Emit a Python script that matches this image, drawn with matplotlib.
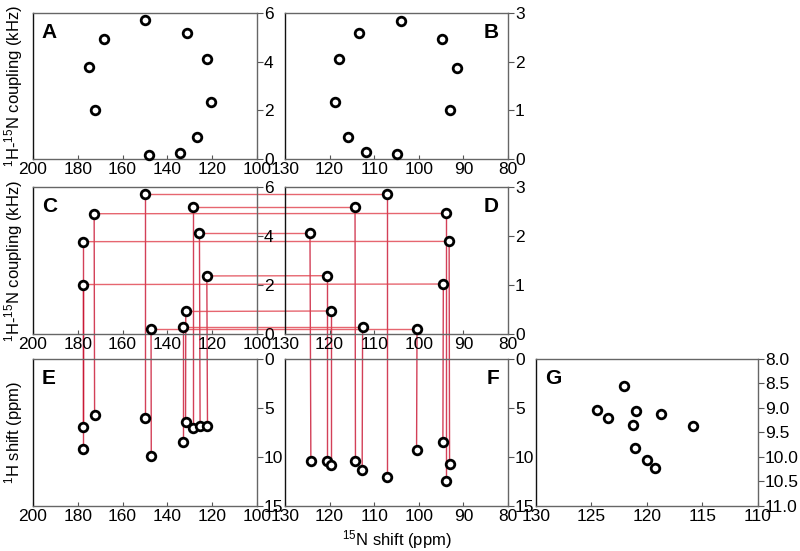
import matplotlib
matplotlib.use("Agg")
import matplotlib.pyplot as plt
from matplotlib.lines import Line2D

plt.rcParams['font.family'] = ['Liberation Sans', 'DejaVu Sans']
plt.rcParams['mathtext.fontset'] = 'custom'
plt.rcParams['mathtext.rm'] = 'Liberation Sans'
plt.rcParams['mathtext.it'] = 'Liberation Sans:italic'
plt.rcParams['mathtext.bf'] = 'Liberation Sans:bold'

# panel A: 15N shift (ppm) vs 1H-15N coupling (kHz)
a_n = [150.0, 168.2, 175.2, 172.2, 148.1, 134.3, 126.6, 131.2, 122.5, 120.4]
a_j = [5.70, 4.93, 3.77, 2.00, 0.18, 0.26, 0.89, 5.18, 4.10, 2.36]

# panel B
b_n = [104.0, 113.5, 94.9, 117.9, 91.5, 118.9, 92.9, 115.9, 111.8, 105.0]
b_j = [2.84, 2.59, 2.46, 2.06, 1.88, 1.18, 1.00, 0.45, 0.14, 0.10]

# panel C (each point paired with a D point and an E point)
c_n = [149.9, 128.4, 172.7, 125.7, 177.6, 122.4, 177.6, 131.8, 133.0, 147.3]
c_j = [5.70, 5.18, 4.91, 4.14, 3.77, 2.37, 2.02, 0.92, 0.30, 0.20]

# panel D (paired with C by row, with F by x)
d_n = [107.1, 114.3, 93.8, 124.4, 93.2, 120.6, 94.5, 119.6, 112.6, 100.4]
d_j = [2.85, 2.59, 2.46, 2.07, 1.89, 1.19, 1.02, 0.47, 0.15, 0.10]

# panel E: 1H shift (ppm), same order as C
e_n = [149.9, 128.4, 172.5, 125.4, 177.6, 122.1, 177.6, 131.9, 133.0, 147.2]
e_h = [5.98, 7.05, 5.74, 6.88, 9.23, 6.84, 6.98, 6.46, 8.47, 9.92]

# panel F: 1H shift (ppm), same order as D
f_n = [107.1, 114.2, 93.8, 124.2, 93.1, 120.6, 94.6, 119.6, 112.7, 100.5]
f_h = [12.0, 10.37, 12.44, 10.37, 10.75, 10.44, 8.43, 10.82, 11.34, 9.30]

# panel G
g_n = [122.1, 124.5, 123.5, 121.0, 118.7, 121.3, 115.9, 121.1, 120.0, 119.3]
g_h = [8.56, 9.05, 9.21, 9.07, 9.12, 9.35, 9.36, 9.82, 10.06, 10.22]

fig = plt.figure(figsize=(8, 5.51), dpi=100)

cols = [0.04125, 0.35625, 0.67]
widths = [0.28, 0.27875, 0.2775]
rows = [0.7114, 0.3938, 0.0817]
heights = [0.265, 0.2668, 0.2668]


def panel(col, row, xlim, xticks, ylim, yticks, letter, left_letter=True):
    ax = fig.add_axes([cols[col], rows[row], widths[col], heights[row]])
    ax.set_facecolor('none')
    ax.set_xlim(xlim)
    ax.set_ylim(ylim)
    ax.set_xticks(xticks)
    ax.set_yticks(yticks)
    ax.yaxis.tick_right()
    ax.tick_params(axis='x', direction='in', length=3, labelsize=12.5, pad=2,
                   color='#555555')
    ax.tick_params(axis='y', direction='out', length=4, labelsize=12.5, pad=1,
                   color='#555555')
    for s in ['top', 'right', 'bottom']:
        ax.spines[s].set_color('#666666')
    ax.spines['left'].set_color('#111111')
    for s in ax.spines.values():
        s.set_linewidth(1.0)
    if left_letter:
        ax.text(0.04, 0.93, letter, transform=ax.transAxes, fontsize=15,
                fontweight='bold', va='top', ha='left')
    else:
        ax.text(0.96, 0.93, letter, transform=ax.transAxes, fontsize=15,
                fontweight='bold', va='top', ha='right')
    return ax


big_x = [200, 180, 160, 140, 120, 100]
mid_x = [130, 120, 110, 100, 90, 80]

axA = panel(0, 0, (200, 100), big_x, (0, 6), [0, 2, 4, 6], 'A')
axB = panel(1, 0, (130, 80), mid_x, (0, 3), [0, 1, 2, 3], 'B', False)
axC = panel(0, 1, (200, 100), big_x, (0, 6), [0, 2, 4, 6], 'C')
axD = panel(1, 1, (130, 80), mid_x, (0, 3), [0, 1, 2, 3], 'D', False)
axE = panel(0, 2, (200, 100), big_x, (15, 0), [0, 5, 10, 15], 'E')
axF = panel(1, 2, (130, 80), mid_x, (15, 0), [0, 5, 10, 15], 'F', False)
axG = panel(2, 2, (130, 110), [130, 125, 120, 115, 110], (11.0, 8.0),
            [8.0, 8.5, 9.0, 9.5, 10.0, 10.5, 11.0], 'G')
axG.set_yticklabels(['8.0', '8.5', '9.0', '9.5', '10.0', '10.5', '11.0'])

coup = r'$^{1}$H-$^{15}$N coupling (kHz)'
axA.set_ylabel(coup, fontsize=12, labelpad=6)
axC.set_ylabel(coup, fontsize=12, labelpad=6)
axE.set_ylabel(r'$^{1}$H shift (ppm)', fontsize=12, labelpad=6)
axF.set_xlabel(r'$^{15}$N shift (ppm)', fontsize=12, labelpad=3)

mk = dict(linestyle='none', marker='o', markersize=6.2, markeredgewidth=2,
          markeredgecolor='black', markerfacecolor='white', zorder=5,
          clip_on=False)
axA.plot(a_n, a_j, **mk)
axB.plot(b_n, b_j, **mk)
axC.plot(c_n, c_j, **mk)
axD.plot(d_n, d_j, **mk)
axE.plot(e_n, e_h, **mk)
axF.plot(f_n, f_h, **mk)
axG.plot(g_n, g_h, **mk)

# red connector lines drawn in figure coordinates, behind the axes content
inv = fig.transFigure.inverted()


def connect(ax1, p1, ax2, p2, color):
    q1 = inv.transform(ax1.transData.transform(p1))
    q2 = inv.transform(ax2.transData.transform(p2))
    fig.add_artist(Line2D([q1[0], q2[0]], [q1[1], q2[1]],
                          transform=fig.transFigure, color=color,
                          linewidth=1.0, alpha=0.8, zorder=-1))


for i in range(len(c_n)):
    connect(axC, (c_n[i], c_j[i]), axD, (d_n[i], d_j[i]), '#e0404c')
    connect(axC, (c_n[i], c_j[i]), axE, (e_n[i], e_h[i]), '#c8102e')
    connect(axD, (d_n[i], d_j[i]), axF, (f_n[i], f_h[i]), '#c8102e')

fig.savefig('out.png', dpi=100)
